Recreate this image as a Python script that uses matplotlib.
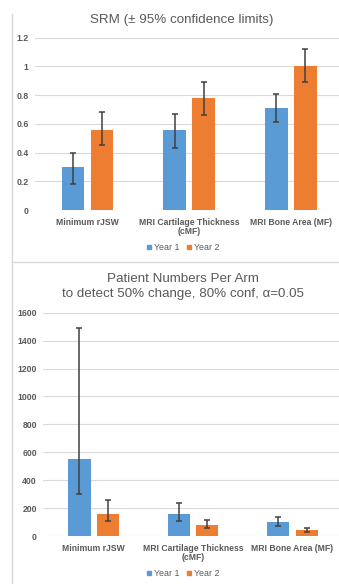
import matplotlib
matplotlib.use("Agg")
import matplotlib.pyplot as plt
from matplotlib.lines import Line2D
import numpy as np

plt.rcParams['font.family'] = ['Liberation Sans', 'DejaVu Sans']

categories = ["Minimum rJSW", "MRI Cartilage Thickness\n(cMF)", "MRI Bone Area (MF)"]
series = ["Year 1", "Year 2"]

# SRM with 95% limits
srm_y1 = [0.30, 0.56, 0.71]
srm_y1_lo = [0.18, 0.43, 0.61]
srm_y1_hi = [0.40, 0.67, 0.81]
srm_y2 = [0.56, 0.78, 1.00]
srm_y2_lo = [0.45, 0.66, 0.89]
srm_y2_hi = [0.68, 0.89, 1.12]

# patient numbers per arm
pat_y1 = [555, 155, 97]
pat_y1_lo = [300, 105, 70]
pat_y1_hi = [1490, 240, 135]
pat_y2 = [155, 80, 45]
pat_y2_lo = [110, 60, 30]
pat_y2_hi = [255, 115, 60]

blue = "#5B9BD5"
orange = "#ED7D31"
grid_c = "#D9D9D9"
txt_c = "#595959"

W, H = 339, 584
fig = plt.figure(figsize=(W / 100, H / 100), dpi=100)


def draw_panel(ax, y1, y1lo, y1hi, y2, y2lo, y2hi, ymax, step, fmt, xlim):
    x = np.arange(len(categories))
    off = 0.143
    bw = 0.222
    ek = dict(ecolor="#404040", elinewidth=1.1, capsize=2.4, capthick=1.1)
    e1 = [np.array(y1) - np.array(y1lo), np.array(y1hi) - np.array(y1)]
    e2 = [np.array(y2) - np.array(y2lo), np.array(y2hi) - np.array(y2)]
    ax.bar(x - off, y1, bw, color=blue, yerr=e1, error_kw=ek, zorder=3)
    ax.bar(x + off, y2, bw, color=orange, yerr=e2, error_kw=ek, zorder=3)
    ax.set_ylim(0, ymax)
    ax.set_xlim(*xlim)
    ticks = np.arange(0, ymax + step / 2, step)
    ax.set_yticks(ticks)
    ax.set_yticklabels([fmt(t) for t in ticks])
    ax.set_xticks(x)
    ax.set_xticklabels(categories)
    for s in ax.spines.values():
        s.set_visible(False)
    ax.grid(axis="y", color=grid_c, lw=0.8, zorder=0)
    ax.tick_params(length=0, colors=txt_c, labelsize=6.2)
    ax.tick_params(axis="y", pad=4.5)
    ax.tick_params(axis="x", pad=5.5)
    for lab in ax.get_xticklabels() + ax.get_yticklabels():
        lab.set_fontweight("bold")
        lab.set_linespacing(1.0)


def fmt_srm(v):
    s = ("%.1f" % v).rstrip("0").rstrip(".")
    return s if s else "0"


ax1 = fig.add_axes([35 / W, 1 - 210 / H, 304 / W, (210 - 37.7) / H])
draw_panel(ax1, srm_y1, srm_y1_lo, srm_y1_hi, srm_y2, srm_y2_lo, srm_y2_hi,
           1.2, 0.2, fmt_srm, (-0.516, 2.473))

ax2 = fig.add_axes([43 / W, 1 - 536 / H, 296 / W, (536 - 312.7) / H])
draw_panel(ax2, pat_y1, pat_y1_lo, pat_y1_hi, pat_y2, pat_y2_lo, pat_y2_hi,
           1600, 200, lambda v: "%d" % v, (-0.51, 2.468))

fig.text(182 / W, 1 - 19.5 / H, "SRM (\u00b1 95% confidence limits)", ha="center",
         va="center", fontsize=9.6, color=txt_c)
fig.text(183 / W, 1 - 278.5 / H, "Patient Numbers Per Arm", ha="center",
         va="center", fontsize=9.6, color=txt_c)
fig.text(183 / W, 1 - 294.5 / H, "to detect 50% change, 80% conf, \u03b1=0.05",
         ha="center", va="center", fontsize=9.6, color=txt_c)

# legends
handles = [Line2D([], [], ls="none", marker="s", ms=3, color=c) for c in (blue, orange)]
for yy in (248, 573.5):
    fig.legend(handles, series, loc="center", bbox_to_anchor=(183 / W, 1 - yy / H),
               ncol=2, frameon=False, fontsize=6.4, handlelength=0.6,
               handletextpad=0.25, columnspacing=0.8, labelcolor=txt_c)

# panel frame lines
fig.add_artist(Line2D([11.5 / W, 11.5 / W], [0, 1 - 14 / H], color=grid_c, lw=1.0,
                      transform=fig.transFigure))
fig.add_artist(Line2D([11.5 / W, 1], [1 - 262 / H, 1 - 262 / H], color=grid_c, lw=1.0,
                      transform=fig.transFigure))

fig.savefig("out.png", dpi=100)
